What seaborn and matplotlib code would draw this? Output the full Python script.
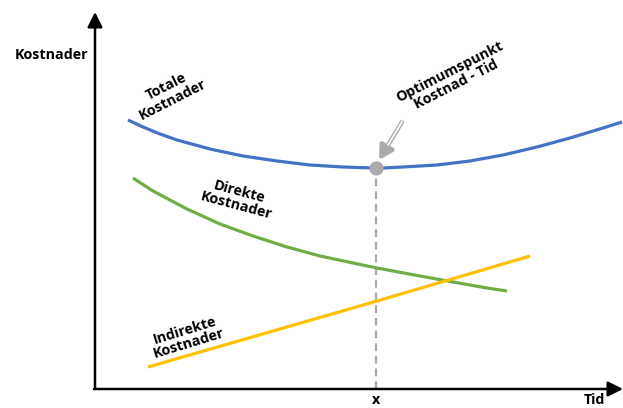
import numpy as np
import pandas as pd
import matplotlib
matplotlib.use("Agg")
import matplotlib.pyplot as plt
import seaborn as sns

# ---- data (arbitrary units: time vs. cost) ----
total_x = [33, 48, 65, 82, 115, 148, 182, 215, 248, 278, 288, 308, 342, 375, 408, 442, 475, 508, 527]
total_y = [269, 262, 255, 249, 240, 233, 228, 224, 222, 221, 221, 222, 224, 228, 234, 242, 251, 261, 267]
direct_x = [38, 58, 92, 125, 158, 192, 225, 258, 282, 325, 358, 392, 412]
direct_y = [211, 198, 180, 165, 153, 142, 133, 126, 121, 113, 107, 101, 98]
indirect_x = [53, 282, 435]
indirect_y = [22, 88, 133]
optimum_x = 281
optimum_y = 221

series_names = ["Totale Kostnader", "Direkte Kostnader", "Indirekte Kostnader"]
colors = ["#4472C4", "#70AD47", "#FFC000"]

df = pd.concat([
    pd.DataFrame({"Tid": total_x, "Kostnad": total_y, "serie": series_names[0]}),
    pd.DataFrame({"Tid": direct_x, "Kostnad": direct_y, "serie": series_names[1]}),
    pd.DataFrame({"Tid": indirect_x, "Kostnad": indirect_y, "serie": series_names[2]}),
])

sns.set_style("white")
plt.rcParams["font.family"] = ["Open Sans", "DejaVu Sans"]

W, H = 623, 408
fig = plt.figure(figsize=(W / 100, H / 100), dpi=100)
left_px, bottom_px, right_px, top_px = 95, 389, 623, 12
ax = fig.add_axes([left_px / W, (H - bottom_px) / H,
                   (right_px - left_px) / W, (bottom_px - top_px) / H])
ax.set_xlim(0, right_px - left_px)
ax.set_ylim(0, bottom_px - top_px)

sns.lineplot(data=df, x="Tid", y="Kostnad", hue="serie", palette=colors,
             hue_order=series_names, ax=ax, linewidth=2.3, legend=False,
             sort=False, estimator=None)
for ln in ax.lines:
    ln.set_clip_on(False)
    ln.set_solid_capstyle("butt")
    ln.set_solid_joinstyle("round")

# dashed optimum line + marker
ax.vlines(optimum_x, 0, optimum_y, colors="#aaaaaa", linestyles=(0, (3.5, 2.2)),
          linewidth=1.6, zorder=1)
ax.scatter([optimum_x], [optimum_y], s=85, color="#aaaaaa", zorder=5, clip_on=False)

# arrow pointing to optimum (hollow shaft, filled head)
tail = (optimum_x + 26, optimum_y + 46)
tip = (optimum_x + 3, optimum_y + 8)
ax.annotate("", xy=tip, xytext=tail,
            arrowprops=dict(arrowstyle="-|>,head_length=0.8,head_width=0.45",
                            color="#aaaaaa", lw=3.2, shrinkA=0, shrinkB=0), zorder=6)
ax.annotate("", xy=(optimum_x + 12, optimum_y + 23), xytext=(tail[0] + 0.5, tail[1] + 1),
            arrowprops=dict(arrowstyle="-", color="white", lw=1.2, shrinkA=0, shrinkB=0),
            zorder=7)

# axes with arrows
for s in ax.spines.values():
    s.set_visible(False)
ax.set_xticks([])
ax.set_yticks([])
ax.set_xlabel("")
ax.set_ylabel("")
ap = dict(arrowstyle="-|>,head_length=0.9,head_width=0.45", lw=1.8, color="black",
          shrinkA=0, shrinkB=0)
ax.annotate("", xy=(0, 1), xytext=(0, 0), xycoords="axes fraction", arrowprops=ap)
ax.annotate("", xy=(1, 0), xytext=(-0.002, 0), xycoords="axes fraction", arrowprops=ap)

fs = 10.3
tk = dict(fontsize=fs, fontweight="bold", color="black", ha="center", va="center",
          ma="center", linespacing=1.0, clip_on=False)
ax.text(-43, 334, "Kostnader", **tk)
ax.text(499, -11, "Tid", **tk)
ax.text(optimum_x, -11, "x", **tk)
ax.text(75, 296, "Totale\nKostnader", rotation=27, rotation_mode="anchor", **tk)
ax.text(358, 311, "Optimumspunkt\nKostnad - Tid", rotation=27, rotation_mode="anchor", **tk)
ax.text(143, 190, "Direkte\nKostnader", rotation=-15, rotation_mode="anchor", **tk)
ax.text(92, 52, "Indirekte\nKostnader", rotation=17, rotation_mode="anchor", **tk)

fig.savefig("out.png", dpi=100)
